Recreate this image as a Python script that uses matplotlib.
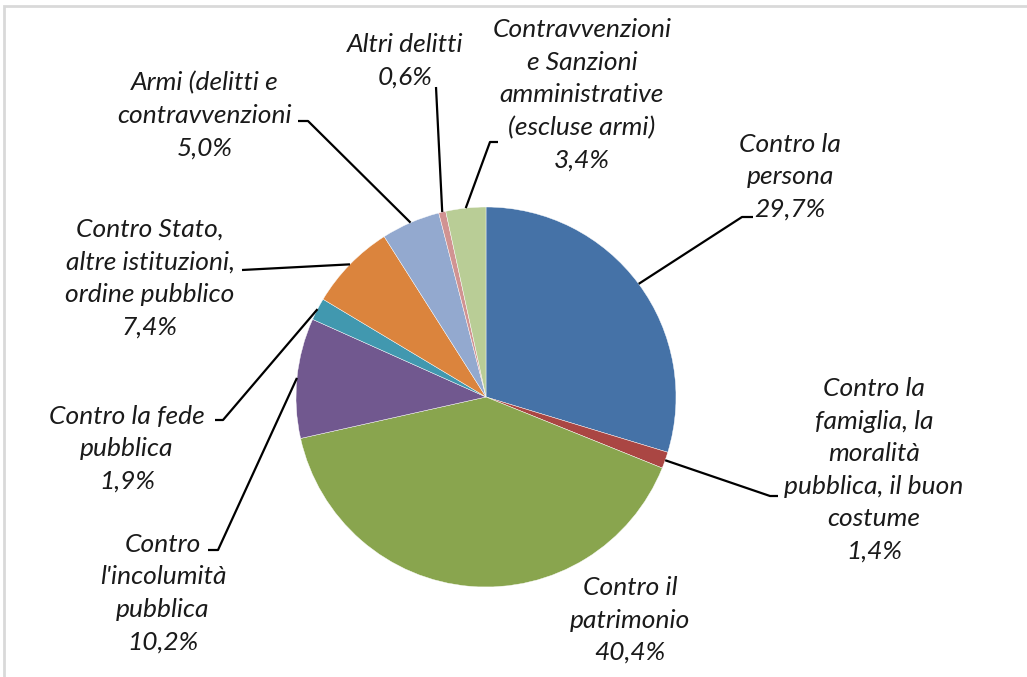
import numpy as np
import matplotlib
matplotlib.use("Agg")
import matplotlib.pyplot as plt
from matplotlib.patches import Rectangle

# ── Data ──
labels = [
    "Contro la\npersona",
    "Contro la\nfamiglia, la\nmoralità\npubblica, il buon\ncostume",
    "Contro il\npatrimonio",
    "Contro\nl'incolumità\npubblica",
    "Contro la fede\npubblica",
    "Contro Stato,\naltre istituzioni,\nordine pubblico",
    "Armi (delitti e\ncontravvenzioni",
    "Altri delitti",
    "Contravvenzioni\ne Sanzioni\namministrative\n(escluse armi)",
]
shares = [29.7, 1.4, 40.4, 10.2, 1.9, 7.4, 5.0, 0.6, 3.4]
colors = ["#4572A7", "#AA4643", "#89A54E", "#71588F", "#4198AF",
          "#DB843D", "#93A9CF", "#D19392", "#B9CD96"]

# ── Layout (pixel coords, y measured from the top) ──
W, H = 1027, 677
CX, CY, R = 486, 397, 190
# label centre, then elbow + end of leader line (None = no leader)
label_pos = [(790, 177), (874, 470), (630, 620), (163, 593), (127, 449),
             (150, 278), (205, 115), (405, 61), (582, 95)]
leaders = [
    [(742, 217), (753, 217)],
    [(770, 496), (778, 496)],
    None,
    [(218, 550), (208, 550)],
    [(223, 420), (215, 420)],
    [(242, 270), (242, 270)],
    [(308, 121), (298, 121)],
    [(436, 87), (436, 87)],
    [(490, 142), (498, 142)],
]

TXT = "#1a1a1a"
FONT = "Lato"


def Y(y):
    return H - y


fig = plt.figure(figsize=(W / 100, H / 100), dpi=100)
ax = fig.add_axes([0, 0, 1, 1])

wedges, _ = ax.pie(shares, colors=colors, startangle=90, counterclock=False,
                   center=(CX, Y(CY)), radius=R, frame=True,
                   wedgeprops=dict(edgecolor="white", linewidth=0.3))
ax.set_xlim(0, W)
ax.set_ylim(0, H)
ax.set_aspect("equal")
ax.axis("off")

# chart frame (cut off at right and bottom like the screenshot)
ax.add_patch(Rectangle((4, -10), W + 20, Y(6) + 10, fill=False,
                       edgecolor="#d9d9d9", linewidth=2, zorder=0))

for i, w in enumerate(wedges):
    pct = f"{shares[i]:.1f}%".replace(".", ",")
    x, y = label_pos[i]
    ax.text(x, Y(y), f"{labels[i]}\n{pct}", ha="center", va="center",
            multialignment="center", fontsize=19, style="italic",
            family=FONT, color=TXT, linespacing=1.5)
    if leaders[i] is None:
        continue
    mid = np.deg2rad((w.theta1 + w.theta2) / 2)
    sx, sy = CX + R * np.cos(mid), Y(CY) + R * np.sin(mid)
    pts = [(sx, sy)] + [(px, Y(py)) for px, py in leaders[i]]
    ax.plot([p[0] for p in pts], [p[1] for p in pts], color="black",
            linewidth=1.6, solid_capstyle="butt", zorder=5)

fig.savefig("out.png", dpi=100, facecolor="white")
